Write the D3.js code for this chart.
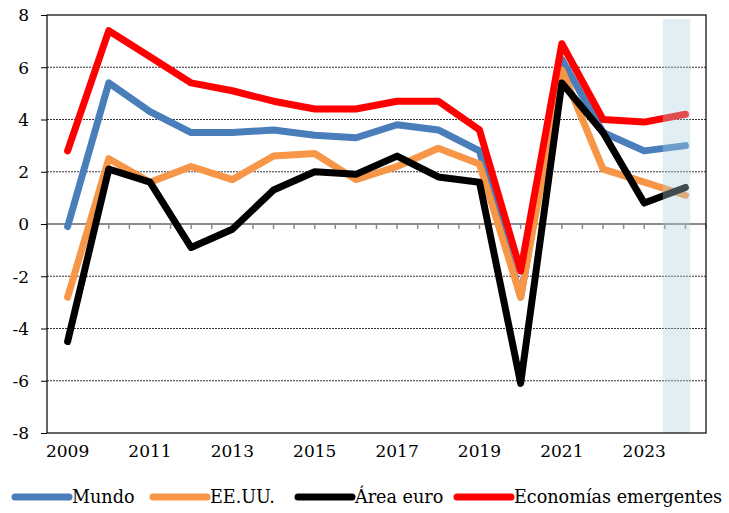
<!DOCTYPE html>
<html>
<head>
<meta charset="utf-8">
<script src="https://cdn.jsdelivr.net/npm/d3@7"></script>
<style>
  body { margin: 0; background: #fff; }
  text { font-family: "DejaVu Serif", serif; fill: #000; }
</style>
</head>
<body>
<svg id="chart" width="729" height="513"></svg>
<script>
// years on the category axis
const years = d3.range(2009, 2025);
const yTicks = [-8, -6, -4, -2, 0, 2, 4, 6, 8];
const xLabels = [2009, 2011, 2013, 2015, 2017, 2019, 2021, 2023];

// series values (% growth)
const mundo = [-0.1, 5.4, 4.3, 3.5, 3.5, 3.6, 3.4, 3.3, 3.8, 3.6, 2.8, -2.8, 6.3, 3.5, 2.8, 3.0];
const eeuu = [-2.8, 2.5, 1.6, 2.2, 1.7, 2.6, 2.7, 1.7, 2.2, 2.9, 2.3, -2.8, 5.9, 2.1, 1.6, 1.1];
const areaEuro = [-4.5, 2.1, 1.6, -0.9, -0.2, 1.3, 2.0, 1.9, 2.6, 1.8, 1.6, -6.1, 5.4, 3.5, 0.8, 1.4];
const emergentes = [2.8, 7.4, 6.4, 5.4, 5.1, 4.7, 4.4, 4.4, 4.7, 4.7, 3.6, -1.8, 6.9, 4.0, 3.9, 4.2];

const series = [
  { name: 'Mundo', values: mundo, color: '#4a7ebb' },
  { name: 'EE.UU.', values: eeuu, color: '#f79646' },
  { name: 'Área euro', values: areaEuro, color: '#000000' },
  { name: 'Economías emergentes', values: emergentes, color: '#ff0000' }
];

// forecast band
const forecast = [2023.45, 2024.12];

const svg = d3.select('#chart');
const margin = { left: 47, right: 23, top: 15, bottom: 80 };
const width = 729, height = 513;

const x = d3.scaleLinear()
  .domain([2008.5, 2024.5])
  .range([margin.left, width - margin.right]);

const y = d3.scaleLinear()
  .domain([-8, 8])
  .range([height - margin.bottom, margin.top]);

// gridlines (dotted)
svg.append('g')
  .selectAll('line')
  .data(yTicks.filter(d => d !== 0 && d !== 8 && d !== -8))
  .enter()
  .append('line')
  .attr('x1', x.range()[0])
  .attr('x2', x.range()[1])
  .attr('y1', d => y(d))
  .attr('y2', d => y(d))
  .attr('stroke', '#333')
  .attr('stroke-width', 1)
  .attr('stroke-dasharray', '2,1');

// zero line with half-year ticks
svg.append('line')
  .attr('x1', x.range()[0])
  .attr('x2', x.range()[1])
  .attr('y1', y(0))
  .attr('y2', y(0))
  .attr('stroke', '#8c8c8c')
  .attr('stroke-width', 2);

svg.append('g')
  .selectAll('line')
  .data(d3.range(2008.5, 2024.51, 0.5))
  .enter()
  .append('line')
  .attr('x1', d => x(d))
  .attr('x2', d => x(d))
  .attr('y1', y(0))
  .attr('y2', y(0) + 5)
  .attr('stroke', '#8c8c8c')
  .attr('stroke-width', 1.5);

// lines
const line = d3.line()
  .x((d, i) => x(years[i]))
  .y(d => y(d))
  .curve(d3.curveLinear);

svg.append('g')
  .selectAll('path')
  .data(series)
  .enter()
  .append('path')
  .attr('d', d => line(d.values))
  .attr('fill', 'none')
  .attr('stroke', d => d.color)
  .attr('stroke-width', 7)
  .attr('stroke-linejoin', 'round')
  .attr('stroke-linecap', 'round');

// forecast shading drawn over the lines
svg.append('rect')
  .attr('x', x(forecast[0]))
  .attr('width', x(forecast[1]) - x(forecast[0]))
  .attr('y', y(7.85))
  .attr('height', y(-8) - y(7.85))
  .attr('fill', 'rgb(173,210,225)')
  .attr('opacity', 0.36);

// frame
svg.append('rect')
  .attr('x', x.range()[0])
  .attr('y', y(8))
  .attr('width', x.range()[1] - x.range()[0])
  .attr('height', y(-8) - y(8))
  .attr('fill', 'none')
  .attr('stroke', '#000')
  .attr('stroke-width', 1.2);

// y axis
const yAxis = d3.axisLeft(y)
  .tickValues(yTicks)
  .tickSize(6)
  .tickPadding(12)
  .tickFormat(d => String(d));

const gy = svg.append('g')
  .attr('transform', `translate(${x.range()[0]},0)`)
  .call(yAxis);
gy.select('.domain').remove();
gy.selectAll('text')
  .style('font-size', '17px')
  .attr('dy', '0.35em');
gy.selectAll('line').attr('stroke', '#000');

// x labels
svg.append('g')
  .selectAll('text')
  .data(xLabels)
  .enter()
  .append('text')
  .attr('x', d => x(d))
  .attr('y', y(-8) + 24)
  .attr('text-anchor', 'middle')
  .style('font-size', '17px')
  .text(d => d);

// legend
const legendX = [15, 153, 298, 457];
const leg = svg.append('g')
  .selectAll('g')
  .data(series)
  .enter()
  .append('g')
  .attr('transform', (d, i) => `translate(${legendX[i]},497)`);

leg.append('line')
  .attr('x1', 0)
  .attr('x2', 54)
  .attr('stroke', d => d.color)
  .attr('stroke-width', 7)
  .attr('stroke-linecap', 'round');

leg.append('text')
  .attr('x', 57)
  .attr('dy', '0.35em')
  .style('font-size', '17.6px')
  .text(d => d.name);
</script>
</body>
</html>
